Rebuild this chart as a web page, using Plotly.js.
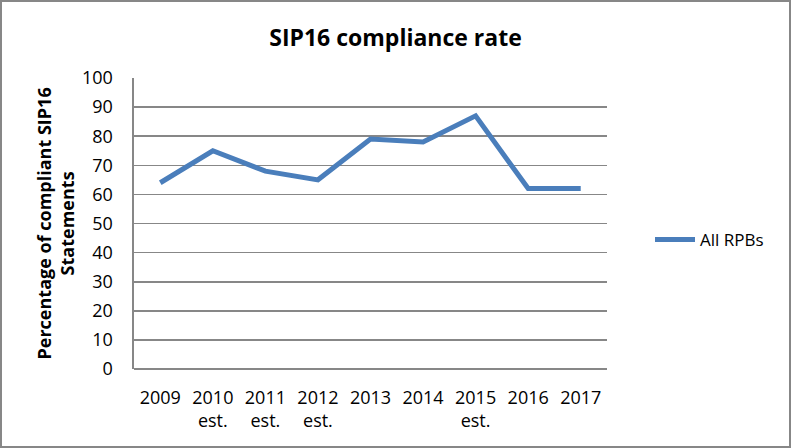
<!DOCTYPE html>
<html>
<head>
<meta charset="utf-8">
<script src="https://cdn.plot.ly/plotly-3.0.1.min.js"></script>
<style>
html,body{margin:0;padding:0;background:#fff;}
#wrap{position:relative;width:791px;height:448px;}
#chart{width:791px;height:448px;}
#frame{position:absolute;left:0;top:0;width:791px;height:448px;box-sizing:border-box;border:2px solid #878787;pointer-events:none;}
</style>
</head>
<body>
<div id="wrap"><div id="chart"></div><div id="frame"></div></div>
<script>
const categories = ["2009", "2010<br>est.", "2011<br>est.", "2012<br>est.", "2013", "2014", "2015<br>est.", "2016", "2017"];
const allRPBs = [64, 75, 68, 65, 79, 78, 87, 62, 62];
const seriesName = "All RPBs";
const chartTitle = "SIP16 compliance rate";
const yTitle = "Percentage of compliant SIP16<br>Statements";

const FONT = "'Open Sans', 'Noto Sans', sans-serif";
const L = 134, R = 607, T = 78, B = 369;
const W = 791, H = 448;
const pw = R - L, ph = B - T;

const trace = {
  x: categories,
  y: allRPBs,
  type: 'scatter',
  mode: 'lines',
  name: seriesName,
  line: {color: '#4a7ebb', width: 5}
};

const layout = {
  width: W, height: H,
  margin: {l: L, r: W - R, t: T, b: H - B, pad: 0},
  paper_bgcolor: '#ffffff',
  plot_bgcolor: '#ffffff',
  font: {family: FONT, color: '#000000', size: 18},
  title: {
    text: '<b>' + chartTitle + '</b>',
    font: {family: FONT, size: 23, color: '#000000'},
    x: 0.5, xanchor: 'center',
    y: 1 - 38 / H, yanchor: 'middle'
  },
  xaxis: {
    type: 'category',
    range: [-0.5, categories.length - 0.5],
    showgrid: false,
    showline: false,
    zeroline: false,
    ticks: '',
    tickfont: {family: FONT, size: 18, color: '#000'},
    ticklabelstandoff: 16,
    fixedrange: true
  },
  yaxis: {
    range: [0, 100],
    dtick: 10,
    tick0: 0,
    showgrid: true,
    gridcolor: '#878787',
    gridwidth: 1.6,
    showline: true,
    linecolor: '#878787',
    linewidth: 1.6,
    zeroline: true,
    zerolinecolor: '#878787',
    zerolinewidth: 1.6,
    ticks: '',
    tickfont: {family: FONT, size: 18, color: '#000'},
    ticklabelstandoff: 16,
    fixedrange: true
  },
  showlegend: true,
  legend: {
    x: (650 - L) / pw, xanchor: 'left',
    y: (B - 240) / ph, yanchor: 'middle',
    font: {family: FONT, size: 17, color: '#000'},
    bgcolor: 'rgba(0,0,0,0)',
    itemwidth: 40
  },
  annotations: [{
    text: '<b>' + yTitle + '</b>',
    xref: 'paper', yref: 'paper',
    x: (55 - L) / pw, y: 0.5,
    xanchor: 'center', yanchor: 'middle',
    textangle: -90,
    showarrow: false,
    font: {family: FONT, size: 18, color: '#000'}
  }]
};

Plotly.newPlot('chart', [trace], layout, {displayModeBar: false, staticPlot: true});
</script>
</body>
</html>
